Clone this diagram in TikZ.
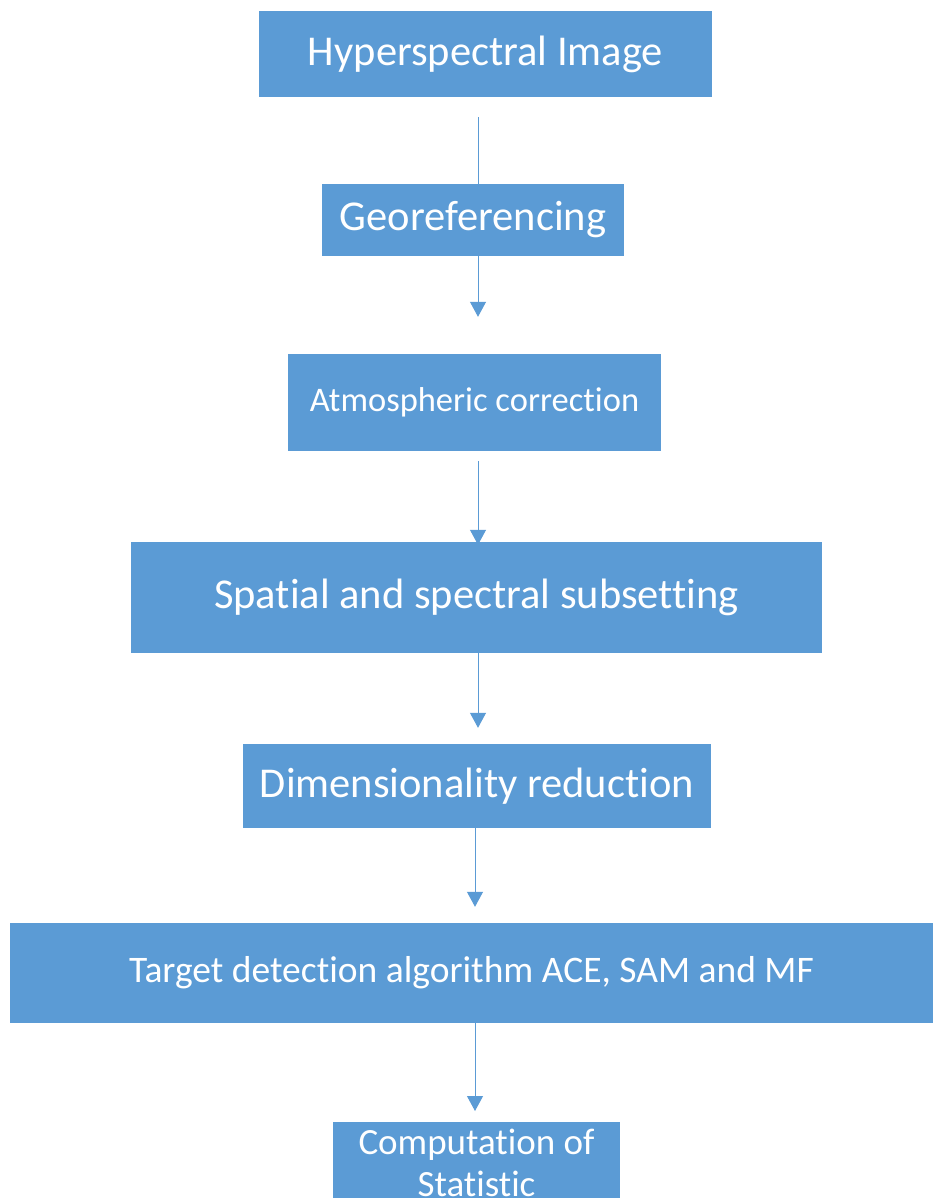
\documentclass[tikz,border=0pt]{standalone}
\usepackage{fontspec}
\setmainfont[Ligatures=NoCommon]{Carlito}
\usetikzlibrary{arrows.meta}

\definecolor{boxblue}{HTML}{5B9BD5}

\begin{document}
\begin{tikzpicture}[x=1pt,y=1pt,yscale=-1,xscale=1,
    stepbox/.style={fill=boxblue,draw=none,text=white,inner sep=0pt,align=center},
    flow/.style={draw=boxblue,line width=1pt,-{Triangle[width=16pt,length=15pt]}},
    plain/.style={draw=boxblue,line width=1pt}]
                    \clip (0,0) rectangle (933,1198);
                    
                    % axis of the connectors
                    \coordinate (axis) at (478,0);
                    \coordinate (axisb) at (475,0);
                    
                    % Boxes
                    \node[stepbox,minimum width=453pt,minimum height=86pt,font=\fontsize{42.5}{48}\selectfont] (hsi) at (485.5,54) {Hyperspectral Image};
                    \node[stepbox,minimum width=302pt,minimum height=72pt,font=\fontsize{42.5}{48}\selectfont] (geo) at (473,220) {Georeferencing};
                    \node[stepbox,minimum width=373pt,minimum height=97pt,font=\fontsize{34.5}{40}\selectfont] (atm) at (474.5,402.5) {Atmospheric correction};
                    \node[stepbox,minimum width=691pt,minimum height=111pt,font=\fontsize{42.5}{48}\selectfont] (sub) at (476.5,597.5) {Spatial and spectral subsetting};
                    \node[stepbox,minimum width=468pt,minimum height=84pt,font=\fontsize{42.5}{48}\selectfont] (dim) at (477,786) {Dimensionality reduction};
                    \node[stepbox,minimum width=923pt,minimum height=100pt,font=\fontsize{37.5}{44}\selectfont] (tgt) at (471.5,973) {Target detection algorithm ACE, SAM and MF};
                    \node[stepbox,minimum width=287pt,inner ysep=7pt,anchor=north,font=\fontsize{37}{42}\selectfont] (stat) at (476.5,1122) {Computation of\\Statistic\\[-10pt]};
                    
                    % Connectors
                    \draw[plain,shorten <=20pt] (hsi.south -| axis) -- (geo.north -| axis);
                    \draw[flow,shorten >=37pt] (geo.south -| axis) -- (atm.north -| axis);
                    \draw[flow,shorten <=10pt,shorten >=-3pt] (atm.south -| axis) -- (sub.north -| axis);
                    \draw[flow,shorten >=16pt] (sub.south -| axis) -- (dim.north -| axis);
                    \draw[flow,shorten >=16pt] (dim.south -| axisb) -- (tgt.north -| axisb);
                    \draw[flow,shorten >=11pt] (tgt.south -| axisb) -- (stat.north -| axisb);
                    
                    
                    \end{tikzpicture}
\end{document}
